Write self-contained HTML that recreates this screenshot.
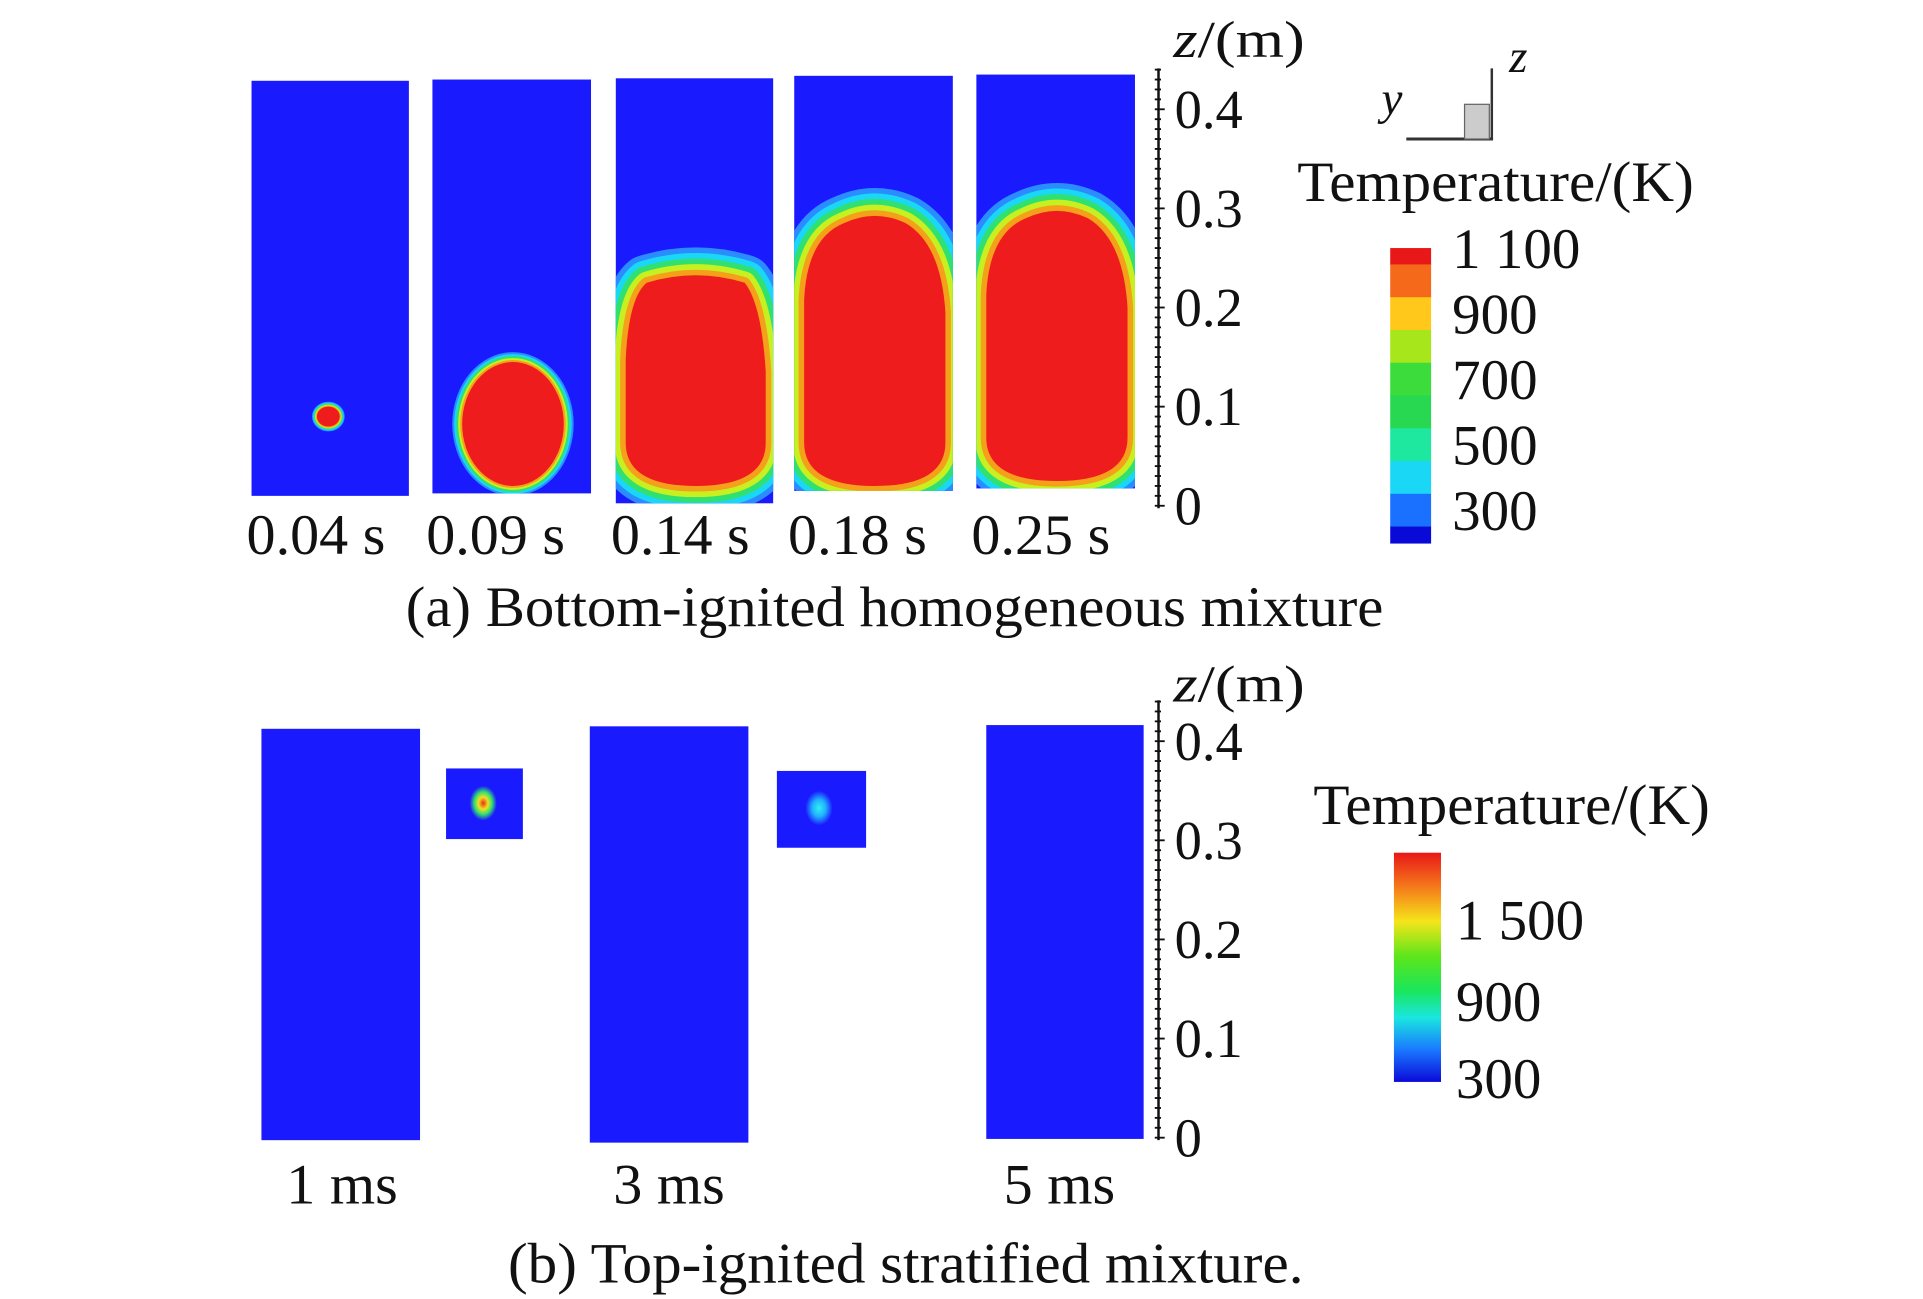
<!DOCTYPE html>
<html><head><meta charset="utf-8"><style>
html,body{margin:0;padding:0;background:#fff}
svg{display:block}
</style></head><body>
<svg id="fig" width="1923" height="1299" viewBox="0 0 1552 1048" xmlns="http://www.w3.org/2000/svg" font-family="'Liberation Serif','DejaVu Serif',serif" fill="#111">
<defs>
<linearGradient id="cb2" x1="0" y1="0" x2="0" y2="1">
<stop offset="0" stop-color="#e81818"/><stop offset="0.15" stop-color="#f57a1a"/><stop offset="0.3" stop-color="#f5e51a"/><stop offset="0.45" stop-color="#5ee61a"/><stop offset="0.6" stop-color="#1ae65a"/><stop offset="0.72" stop-color="#1ae6e0"/><stop offset="0.86" stop-color="#1a78ff"/><stop offset="1" stop-color="#0a0ad8"/>
</linearGradient>
<radialGradient id="spot1"><stop offset="0" stop-color="#e83018"/><stop offset="0.35" stop-color="#f0e020"/><stop offset="0.65" stop-color="#30e070"/><stop offset="1" stop-color="#1a1aff"/></radialGradient>
<radialGradient id="spot2"><stop offset="0" stop-color="#30f0f0"/><stop offset="0.5" stop-color="#20b0ff"/><stop offset="1" stop-color="#1a1aff"/></radialGradient>
</defs>
<g id="topg"></g>
<g id="botg"></g>
</svg>
<script>
const NS='http://www.w3.org/2000/svg';
const topTimes=['0.04 s','0.09 s','0.14 s','0.18 s','0.25 s'];
const botTimes=['1 ms','3 ms','5 ms'];
const zTicks=[0,0.1,0.2,0.3,0.4];
const zTickLabels=['0','0.1','0.2','0.3','0.4'];
const cb1Labels=['1 100','900','700','500','300'];
const cb1Colors=['#e81818','#f56a1a','#ffc81a','#a6e61a','#3cdc3c','#28d850','#1ee8a0','#1ad8f5','#1a70ff','#0a0ad8'];
const cb2Labels=['1 500','900','300'];
// flame front heights (z, m) at each top time
const flameTop=[0.1,0.145,0.235,0.295,0.3];
const flameBottom=[0.08,0.02,0.02,0.02,0.025];

function el(tag,attrs,parent,txt){const e=document.createElementNS(NS,tag);for(const k in attrs)e.setAttribute(k,attrs[k]);if(txt!==undefined)e.textContent=txt;parent.appendChild(e);return e;}
function tx(parent,x,y,size,str,len,anchor){const a={x:x,y:y,'font-size':size};if(anchor)a['text-anchor']=anchor;if(len){a.textLength=len;a.lengthAdjust='spacingAndGlyphs';}return el('text',a,parent,str);}
const gTop=document.getElementById('topg'),gBot=document.getElementById('botg');

const yTop=z=>408-z*800;
const yBot=z=>918-z*800;

function drawAxis(g,y,x0,y0,y1,labelY){
  const a=el('line',{x1:x0,y1:y0,x2:x0,y2:y1,stroke:'#111','stroke-width':2},g);
  
  
  for(let i=0;i<=44;i++){const yy=y(i*0.01);if(yy<y0)break;
    const t=el('line',{x1:x0-3,y1:yy,x2:x0+(i%10===0?5:2),y2:yy,stroke:'#111','stroke-width':1.5},g);
    
    }
  zTicks.forEach((z,i)=>{const t=tx(g,x0+13,y(z)+15,44,zTickLabels[i]);
    
    });
  const ti=el('text',{x:x0+12,y:labelY,'font-size':42,textLength:106,lengthAdjust:'spacingAndGlyphs'},g);
  
  
  el('tspan',{'font-style':'italic'},ti,'z');el('tspan',{},ti,'/(m)');
}

const panels=[[203,330,65,400],[349,477,64,398],[497,624,63,406],[641,769,61,396],[788,916,60,394]];
const rings=['#2a8cff','#1ad8f5','#30e070','#c8f020','#f5a01a'];
const labelX=[255,400,549,692,840];
panels.forEach((p,i)=>{
  const g=el('g',{},gTop);
  
  
  const cid='c'+i;const cp=el('clipPath',{id:cid},g);el('rect',{x:p[0],y:p[2],width:p[1]-p[0],height:p[3]-p[2]},cp);
  el('rect',{x:p[0],y:p[2],width:p[1]-p[0],height:p[3]-p[2],fill:'#1a1aff'},g);
  const ft=yTop(flameTop[i]),fb=yTop(flameBottom[i]);
  let d;
  if(i<2){const cx=i===0?265:414;const r=(fb-ft)/2;const rx=i===0?r*1.15:r*0.82;
    d=`M${cx-rx},${(ft+fb)/2} A${rx},${r} 0 1 0 ${cx+rx},${(ft+fb)/2} A${rx},${r} 0 1 0 ${cx-rx},${(ft+fb)/2}Z`;}
  else{const L=p[0]+8,R=p[1]-6,cx=(L+R)/2,w=R-L;
    const tw=i===2?0.35:0.22;
    d=`M${L},${fb-35} L${L},${ft+70} Q${L+w*0.02},${ft+20} ${cx-w*tw},${ft+8} Q${cx},${ft-4} ${cx+w*tw},${ft+8} Q${R-w*0.03},${ft+25} ${R},${ft+80} L${R},${fb-35} Q${R},${fb} ${cx},${fb} Q${L},${fb} ${L},${fb-35}Z`;}
  const gg=el('g',{'clip-path':`url(#${cid})`},g);
  const base=i===0?0.8:(i===1?1.6:4.5);
  for(let k=0;k<5;k++){const w=(5-k)*base;
    el('path',{d,fill:'none',stroke:rings[k],'stroke-width':w*2,'stroke-linejoin':'round'},gg);}
  const f=el('path',{d,fill:'#ee1c1c'},gg);
  
  
  const t=tx(g,labelX[i],447,46,topTimes[i],112,'middle');
  
  
});
drawAxis(gTop,yTop,935,55,410,46);
let cap=tx(gTop,722,505,46,'(a) Bottom-ignited homogeneous mixture',789,'middle');



const ic=el('g',{},gTop);


el('line',{x1:1135,y1:112,x2:1205,y2:112,stroke:'#333','stroke-width':2.5},ic);
el('line',{x1:1204,y1:112,x2:1204,y2:55,stroke:'#333','stroke-width':2},ic);
el('rect',{x:1182,y:84,width:20,height:28,fill:'#ccc',stroke:'#666','stroke-width':1},ic);
el('text',{x:1115,y:92,'font-size':38,'font-style':'italic'},ic,'y');
el('text',{x:1218,y:58,'font-size':38,'font-style':'italic'},ic,'z');

let lt=tx(gTop,1047,162,46,'Temperature/(K)',320);


const cbTop=200,cbBot=438,unit=(cbBot-cbTop)/9;
let yy=cbTop;
cb1Colors.forEach((c,k)=>{const h=(k===0||k===9)?unit/2:unit;
  const r=el('rect',{x:1122,y:yy,width:33,height:h+0.5,fill:c},gTop);
  
  
  yy+=h;});
cb1Labels.forEach((l,k)=>{const t=tx(gTop,1172,cbTop+k*unit*2+16,46,l);
  
  });

const bp=[[211,339,588,920],[476,604,586,922],[796,923,585,919]];
const bLabelX=[276,540,855];
bp.forEach((p,i)=>{const r=el('rect',{x:p[0],y:p[2],width:p[1]-p[0],height:p[3]-p[2],fill:'#1a1aff'},gBot);
  
  
  const t=tx(gBot,bLabelX[i],971,46,botTimes[i],90,'middle');
  
  });
const insets=[[360,620,62,57,390,648,'spot1'],[627,622,72,62,661,652,'spot2']];
insets.forEach(s=>{const g=el('g',{},gBot);
  
  
  el('rect',{x:s[0],y:s[1],width:s[2],height:s[3],fill:'#1a1aff'},g);
  el('ellipse',{cx:s[4],cy:s[5],rx:11,ry:14,fill:`url(#${s[6]})`},g);});
drawAxis(gBot,yBot,935,565,920,566);
cap=tx(gBot,731,1035,46,'(b) Top-ignited stratified mixture.',642,'middle');


lt=tx(gBot,1060,665,46,'Temperature/(K)',320);


const cb2=el('rect',{x:1125,y:688,width:38,height:185,fill:'url(#cb2)'},gBot);


const cb2Y=[758,824,886];
cb2Labels.forEach((l,k)=>{const t=tx(gBot,1175,cb2Y[k],46,l);
  
  });
</script>
</body></html>
